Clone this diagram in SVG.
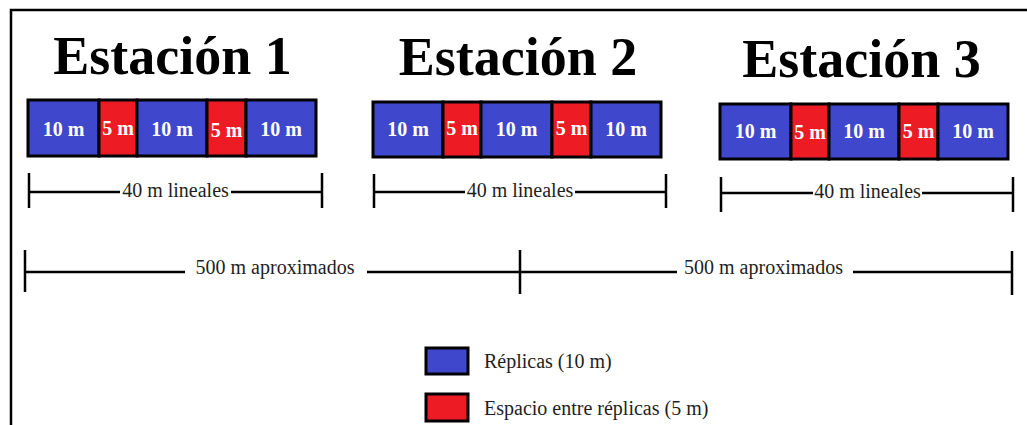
<svg xmlns="http://www.w3.org/2000/svg" width="1027" height="425" viewBox="0 0 1027 425">
<style>
.title{font-family:"Liberation Serif","Times New Roman",serif;font-weight:bold;font-size:54px;fill:#000;text-anchor:middle}
.cell{font-family:"Liberation Serif","Times New Roman",serif;font-weight:bold;font-size:20px;fill:#fff;text-anchor:middle}
.lbl{font-family:"Liberation Serif","Times New Roman",serif;font-size:20px;fill:#1e1e1e;text-anchor:middle}
.leg{font-family:"Liberation Serif","Times New Roman",serif;font-size:20px;fill:#1e1e1e}
.b{fill:#3F48CC;stroke:#000;stroke-width:3}
.r{fill:#ED1C24;stroke:#000;stroke-width:3}
.dim{stroke:#000;stroke-width:2.5;fill:none}
.frame{fill:none;stroke:#000;stroke-width:2.5}
</style>
<rect width="1027" height="425" fill="#fff"/>
<rect class="frame" x="11" y="10" width="1100" height="500"/>

<g id="station1">
<text class="title" x="172.5" y="74">Estación 1</text>
<rect class="b" x="28" y="100" width="71" height="56"/>
<rect class="r" x="99" y="100" width="38" height="56"/>
<rect class="b" x="137" y="100" width="70" height="56"/>
<rect class="r" x="207" y="100" width="39" height="56"/>
<rect class="b" x="246" y="100" width="70" height="56"/>
<text class="cell" x="63.5" y="136">10 m</text>
<text class="cell" x="118" y="135">5 m</text>
<text class="cell" x="172" y="136">10 m</text>
<text class="cell" x="226.5" y="137">5 m</text>
<text class="cell" x="281" y="136">10 m</text>
</g>

<g id="station2">
<text class="title" x="518" y="75">Estación 2</text>
<rect class="b" x="373" y="102" width="70" height="55"/>
<rect class="r" x="443" y="102" width="38" height="55"/>
<rect class="b" x="481" y="102" width="71" height="55"/>
<rect class="r" x="552" y="102" width="39" height="55"/>
<rect class="b" x="591" y="102" width="70" height="55"/>
<text class="cell" x="408" y="136">10 m</text>
<text class="cell" x="462" y="135">5 m</text>
<text class="cell" x="516.5" y="136">10 m</text>
<text class="cell" x="571.5" y="135">5 m</text>
<text class="cell" x="626" y="136">10 m</text>
</g>

<g id="station3">
<text class="title" x="861.5" y="77">Estación 3</text>
<rect class="b" x="720" y="104" width="71" height="55"/>
<rect class="r" x="791" y="104" width="38" height="55"/>
<rect class="b" x="829" y="104" width="70" height="55"/>
<rect class="r" x="899" y="104" width="39" height="55"/>
<rect class="b" x="938" y="104" width="70" height="55"/>
<text class="cell" x="755.5" y="138">10 m</text>
<text class="cell" x="810" y="139">5 m</text>
<text class="cell" x="864" y="138">10 m</text>
<text class="cell" x="918.5" y="138">5 m</text>
<text class="cell" x="973" y="138">10 m</text>
</g>

<g id="connectors">
<path class="dim" d="M29 173V208M29 192H120M231 192H322M322 173V208"/>
<path class="dim" d="M374 174V208M374 192H465M575 192H666M666 174V208"/>
<path class="dim" d="M721 177V212M721 193H813M922 193H1013M1013 177V212"/>
<path class="dim" d="M25 250V292M25 272H185M367 272H520M520 250V294M520 272H677M853 272H1012M1012 251V295"/>
<text class="lbl" x="175.5" y="197">40 m lineales</text>
<text class="lbl" x="520" y="197">40 m lineales</text>
<text class="lbl" x="867.5" y="198">40 m lineales</text>
<text class="lbl" x="275" y="274">500 m aproximados</text>
<text class="lbl" x="763.5" y="274">500 m aproximados</text>
</g>

<g id="legend">
<rect class="b" x="426" y="348" width="42" height="26"/>
<text class="leg" x="484" y="368">Réplicas (10 m)</text>
<rect class="r" x="426" y="394" width="42" height="27"/>
<text class="leg" x="484" y="415">Espacio entre réplicas (5 m)</text>
</g>
</svg>
